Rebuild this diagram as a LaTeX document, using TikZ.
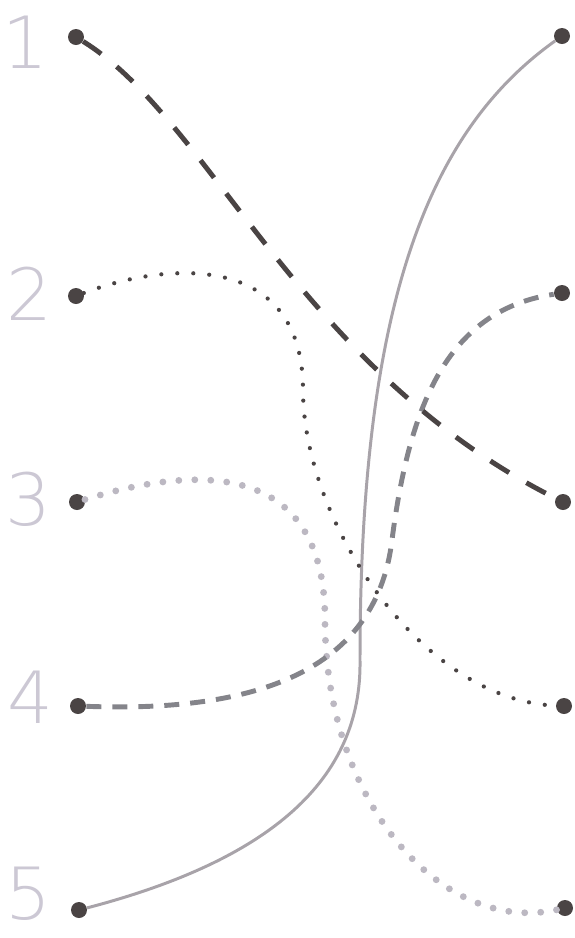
\documentclass[tikz,border=0pt]{standalone}
\usepackage{fontspec}
\newfontfamily\digitfont{DejaVu Sans ExtraLight}
\usepackage{xcolor}
\usepackage{tikz}

\definecolor{pingray}{RGB}{74,68,68}
\definecolor{digitgray}{RGB}{204,200,212}
\definecolor{midgray}{RGB}{132,132,138}
\definecolor{lightgray}{RGB}{188,184,194}
\definecolor{wiregray}{RGB}{168,163,169}

\begin{document}
\begin{tikzpicture}[
    x=0.02cm, y=-0.02cm,
    pin/.style={
        circle,
        fill=pingray,
        inner sep=0pt,
        minimum size=0.32cm
    },
    digit/.style={
        text=digitgray,
        inner sep=0pt,
        font=\digitfont\fontsize{41}{41}\selectfont
    },
    longdash/.style={
        draw=pingray,
        line width=2.8pt,
        dash pattern=on 0.44cm off 0.40cm
    },
    smalldots/.style={
        draw=pingray,
        line width=2.4pt,
        line cap=round,
        dash pattern=on 0pt off 0.32cm
    },
    bigdots/.style={
        draw=lightgray,
        line width=3.9pt,
        line cap=round,
        dash pattern=on 0pt off 0.32cm
    },
    shortdash/.style={
        draw=midgray,
        line width=2.8pt,
        dash pattern=on 0.30cm off 0.22cm
    },
    wire/.style={
        draw=wiregray,
        line width=1.7pt
    }
]
\useasboundingbox (0,0) rectangle (575,938);

% Numbers

\node[digit] (d1) at (25,42) {1};
\node[digit] (d2) at (29,294) {2};
\node[digit] (d3) at (28,499) {3};
\node[digit] (d4) at (30,697) {4};
\node[digit] (d5) at (28,894) {5};

% Left and right pins

\node[pin] (l1) at (76,37) {};
\node[pin] (l2) at (76,296) {};
\node[pin] (l3) at (77,502) {};
\node[pin] (l4) at (78,706) {};
\node[pin] (l5) at (79,910) {};

\node[pin] (r1) at (562,36) {};
\node[pin] (r2) at (562,293) {};
\node[pin] (r3) at (563,502) {};
\node[pin] (r4) at (564,706) {};
\node[pin] (r5) at (565,908) {};

% Lines

\draw[wire] (l5) .. controls (270,860) and (362,780) .. (360,660)
    .. controls (360,300) and (430,130) .. (r1);
\draw[bigdots] (l3) .. controls (180,470) and (325,450) .. (325,620)
    .. controls (325,800) and (440,935) .. (r5);
\draw[smalldots] (l2) .. controls (165,262) and (303,250) .. (303,390)
    .. controls (303,520) and (420,700) .. (r4);
\draw[shortdash] (l4) .. controls (240,712) and (375,680) .. (392,540)
    .. controls (410,400) and (450,310) .. (r2);
\draw[longdash] (l1) .. controls (210,120) and (300,370) .. (r3);

\end{tikzpicture}
\end{document}
